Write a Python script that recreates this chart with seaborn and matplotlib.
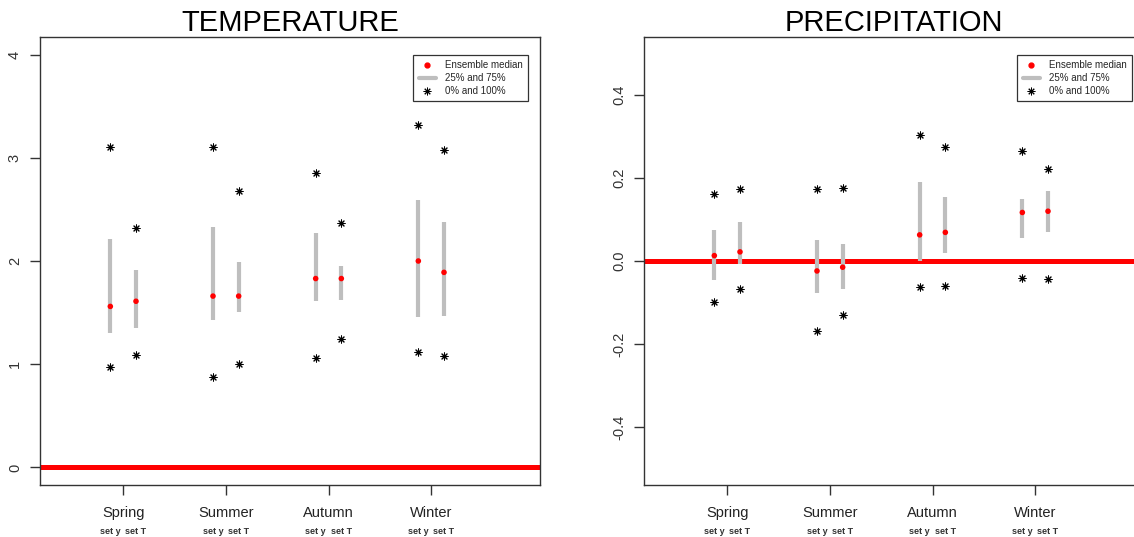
import numpy as np
import pandas as pd
import matplotlib
matplotlib.use('Agg')
import matplotlib.pyplot as plt
import matplotlib.transforms as mtransforms
from matplotlib.lines import Line2D
import seaborn as sns

# data

seasons = ['Spring', 'Summer', 'Autumn', 'Winter']
sets = ['set y', 'set T']

# temperature: one list per set, ordered by season
temp_med_y = [1.56, 1.66, 1.83, 2.00]
temp_med_T = [1.61, 1.66, 1.83, 1.89]
temp_q25_y = [1.30, 1.43, 1.61, 1.46]
temp_q25_T = [1.35, 1.51, 1.62, 1.47]
temp_q75_y = [2.21, 2.33, 2.27, 2.59]
temp_q75_T = [1.91, 1.99, 1.95, 2.38]
temp_min_y = [0.97, 0.88, 1.06, 1.12]
temp_min_T = [1.09, 1.00, 1.24, 1.08]
temp_max_y = [3.10, 3.10, 2.85, 3.32]
temp_max_T = [2.32, 2.68, 2.37, 3.08]

# precipitation
prec_med_y = [0.013, -0.024, 0.063, 0.117]
prec_med_T = [0.022, -0.015, 0.069, 0.120]
prec_q25_y = [-0.047, -0.078, 0.000, 0.055]
prec_q25_T = [-0.008, -0.068, 0.019, 0.069]
prec_q75_y = [0.075, 0.050, 0.191, 0.150]
prec_q75_T = [0.095, 0.041, 0.154, 0.169]
prec_min_y = [-0.098, -0.169, -0.062, -0.040]
prec_min_T = [-0.068, -0.130, -0.060, -0.043]
prec_max_y = [0.162, 0.173, 0.303, 0.266]
prec_max_T = [0.174, 0.175, 0.275, 0.222]


def make_df(med_y, med_T, q25_y, q25_T, q75_y, q75_T, mn_y, mn_T, mx_y, mx_T):
    rows = []
    for i, s in enumerate(seasons):
        rows.append(dict(season=s, pos=i + 1 - 0.125, set='set y', med=med_y[i],
                         q25=q25_y[i], q75=q75_y[i], lo=mn_y[i], hi=mx_y[i]))
        rows.append(dict(season=s, pos=i + 1 + 0.125, set='set T', med=med_T[i],
                         q25=q25_T[i], q75=q75_T[i], lo=mn_T[i], hi=mx_T[i]))
    return pd.DataFrame(rows)


temp = make_df(temp_med_y, temp_med_T, temp_q25_y, temp_q25_T, temp_q75_y, temp_q75_T,
               temp_min_y, temp_min_T, temp_max_y, temp_max_T)
prec = make_df(prec_med_y, prec_med_T, prec_q25_y, prec_q25_T, prec_q75_y, prec_q75_T,
               prec_min_y, prec_min_T, prec_max_y, prec_max_T)

sns.set_style('white')
plt.rcParams['font.family'] = ['Liberation Sans', 'DejaVu Sans']

fig = plt.figure(figsize=(11.34, 5.37), dpi=100)
ax1 = fig.add_axes([40 / 1134, 52 / 537, 500 / 1134, 448 / 537])
# the right panel runs past the figure edge, as in the reference
ax2 = fig.add_axes([644 / 1134, 52 / 537, 500 / 1134, 448 / 537])

star = (8, 2, 0)


def draw(ax, df, title, ylim, yticks, yticklabels):
    ax.axhline(0, color='red', lw=3.6, zorder=1)
    ax.vlines(df['pos'], df['q25'], df['q75'], color='#bebebe', lw=3.0, zorder=2)
    sns.scatterplot(data=df, x='pos', y='med', ax=ax, color='red', s=16,
                    edgecolor='none', zorder=3, legend=False)
    stars = pd.concat([df[['pos', 'lo']].rename(columns={'lo': 'v'}),
                       df[['pos', 'hi']].rename(columns={'hi': 'v'})])
    sns.scatterplot(data=stars, x='pos', y='v', ax=ax, marker=star, color='black',
                    s=26, linewidth=0.75, zorder=3, legend=False)

    ax.set_xlim(0.19, 5.06)
    ax.set_ylim(*ylim)
    ax.set_xticks(range(1, 5))
    ax.set_xticklabels(seasons, fontsize=10.5, color='#222222')
    ax.set_yticks(yticks)
    ax.set_yticklabels(yticklabels, rotation=90, va='center', fontsize=10.5, color='#333333')
    ax.tick_params(axis='both', which='both', direction='out', length=7, width=1,
                   color='#333333', bottom=True, left=True)
    ax.tick_params(axis='x', pad=8)
    ax.tick_params(axis='y', pad=6)
    ax.set_xlabel('')
    ax.set_ylabel('')
    for sp in ax.spines.values():
        sp.set_color('#333333')
        sp.set_linewidth(1.0)
    ax.set_title(title, fontsize=21, pad=-1, color='black')

    trans = mtransforms.blended_transform_factory(ax.transData, ax.transAxes)
    for _, r in df.iterrows():
        ax.text(r['pos'], -0.103, r['set'], transform=trans, ha='center', va='center',
                fontsize=6.5, color='#333333', fontweight='bold')

    handles = [
        Line2D([], [], marker='o', color='red', ls='none', markersize=3.5),
        Line2D([], [], color='#bebebe', lw=3),
        Line2D([], [], marker=star, color='black', ls='none', markersize=5.5, mew=0.7),
    ]
    leg = ax.legend(handles, ['Ensemble median', '25% and 75%', '0% and 100%'],
                    loc='upper right', bbox_to_anchor=(0.976, 0.96), borderaxespad=0,
                    fontsize=7, frameon=True, fancybox=False, handlelength=1.8,
                    handletextpad=0.9, labelspacing=0.3, borderpad=0.55)
    leg.get_frame().set_edgecolor('black')
    leg.get_frame().set_linewidth(0.9)


draw(ax1, temp, 'TEMPERATURE', (-0.17, 4.17), [0, 1, 2, 3, 4], ['0', '1', '2', '3', '4'])
draw(ax2, prec, 'PRECIPITATION', (-0.54, 0.54), [-0.4, -0.2, 0.0, 0.2, 0.4],
     ['-0.4', '-0.2', '0.0', '0.2', '0.4'])

fig.savefig('out.png', dpi=100)
